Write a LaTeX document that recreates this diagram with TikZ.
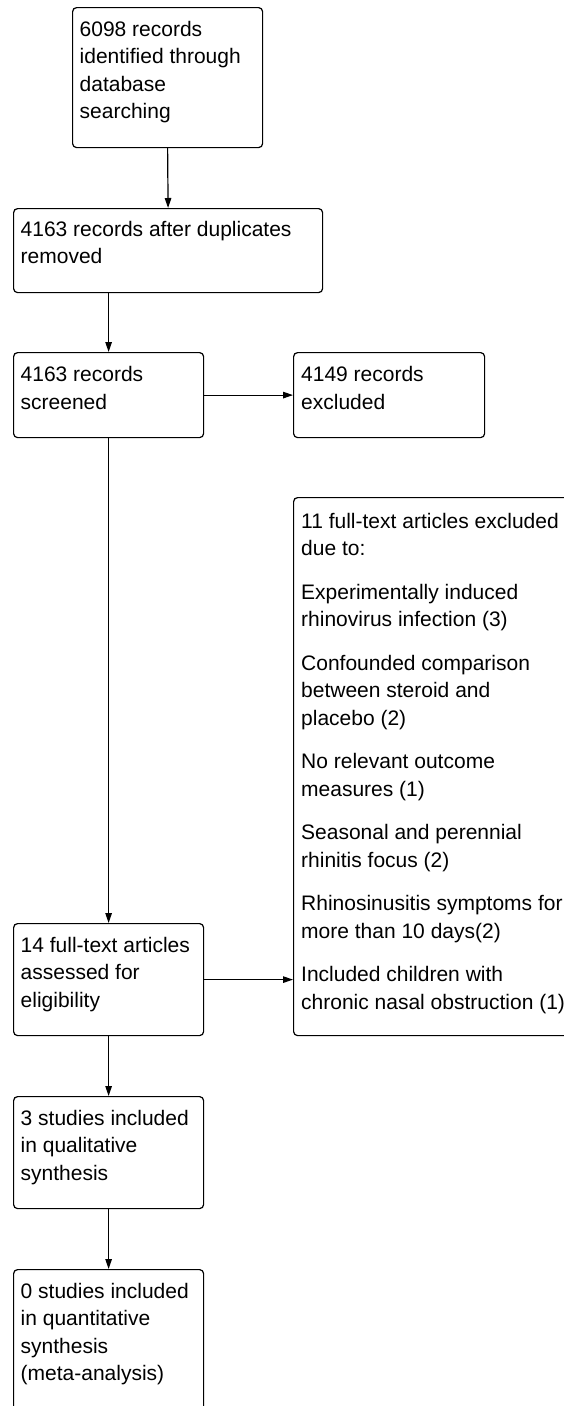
\documentclass[tikz,border=0pt]{standalone}
\usepackage{fontspec}
\setmainfont{Liberation Sans}
\usetikzlibrary{arrows.meta}
\newcommand{\fl}{\rule{0pt}{20pt}}
\begin{document}
\begin{tikzpicture}[x=1pt,y=-1pt,
  box/.style={draw=black, line width=1.2pt, rounded corners=4pt, inner sep=0pt, anchor=north west},
  txt/.style={anchor=north west, align=left, inner sep=0pt, font=\fontsize{21}{27.5}\selectfont},
  arr/.style={line width=1.2pt, -{Triangle[length=10pt,width=6.5pt]}}]
\clip (0,0) rectangle (564,1406);
\fill[white] (0,0) rectangle (564,1406);
% boxes
\node[box, minimum width=190pt, minimum height=140pt] (b1) at (72,7) {};
\node[box, minimum width=309pt, minimum height=84pt] (b2) at (13,208) {};
\node[box, minimum width=190pt, minimum height=85pt] (b3) at (13,352) {};
\node[box, minimum width=191pt, minimum height=85pt] (b4) at (293,352) {};
\node[box, minimum width=300pt, minimum height=538pt] (b5) at (293,497) {};
\node[box, minimum width=190pt, minimum height=112pt] (b6) at (13,923) {};
\node[box, minimum width=190pt, minimum height=112pt] (b7) at (13,1096) {};
\node[box, minimum width=190pt, minimum height=200pt] (b8) at (13,1269) {};
% texts (first baseline = y + 20)
\node[txt] (t1) at (79.5,16) {\fl 6098 records\\identified through\\database\\searching};
\node[txt] (t2) at (20.5,216) {\fl 4163 records after duplicates\\removed};
\node[txt] (t3) at (20.5,361.5) {\fl 4163 records\\screened};
\node[txt] (t4) at (301,361.5) {\fl 4149 records\\excluded};
\node[txt] (t5) at (301,508) {\fl 11 full-text articles excluded\\due to:\\[16pt]Experimentally induced\\rhinovirus infection (3)\\[16pt]Confounded comparison\\between steroid and\\placebo (2)\\[16pt]No relevant outcome\\measures (1)\\[16pt]Seasonal and perennial\\rhinitis focus (2)\\[16pt]Rhinosinusitis symptoms for\\more than 10 days(2)\\[16pt]Included children with\\chronic nasal obstruction (1)};
\node[txt] (t6) at (20.5,932) {\fl 14 full-text articles\\assessed for\\eligibility};
\node[txt] (t7) at (20.5,1105) {\fl 3 studies included\\in qualitative\\synthesis};
\node[txt] (t8) at (20.5,1278) {\fl 0 studies included\\in quantitative\\synthesis\\(meta-analysis)};
% connectors
\draw[arr] (b1.south) -- (b2.north);
\draw[arr] (b2.south -| b3.north) -- (b3.north);
\draw[arr] (b3.east) -- (b4.west);
\draw[arr] (b3.south) -- (b6.north);
\draw[arr] (b6.east) -- (b6.east -| b5.west);
\draw[arr] (b6.south) -- (b7.north);
\draw[arr] (b7.south) -- (b8.north);
\end{tikzpicture}
\end{document}
